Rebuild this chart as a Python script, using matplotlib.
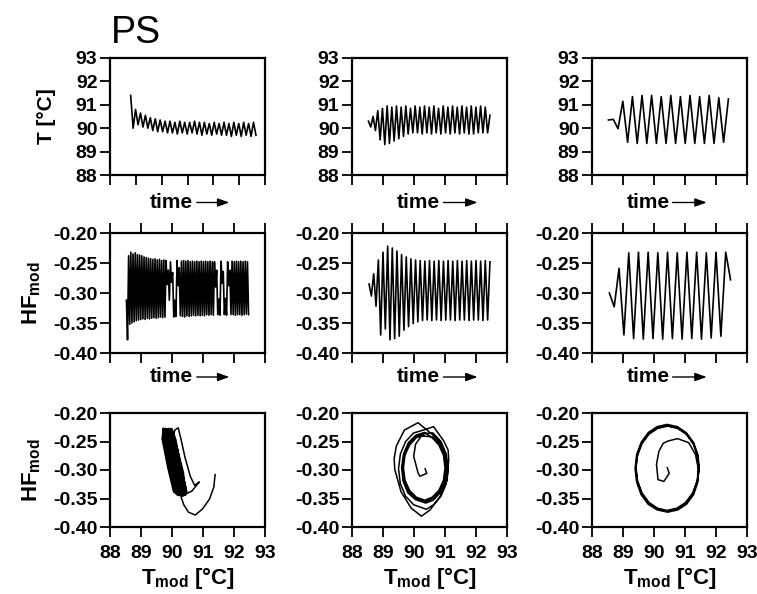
"""PS panels: T and HF_mod against time, plus HF_mod vs T_mod phase portraits."""

import matplotlib

matplotlib.use("Agg")
import matplotlib.pyplot as plt
import numpy as np

# ---- top row: T [°C], successive turning points ----
T_LEFT = [91.40, 90.00, 90.80, 90.15, 90.65, 90.05, 90.55, 90.00, 90.45, 89.90,
          90.40, 89.85, 90.35, 89.85, 90.30, 89.80, 90.30, 89.80, 90.25, 89.75,
          90.30, 89.80, 90.25, 89.75, 90.25, 89.80, 90.30, 89.75, 90.25, 89.70,
          90.25, 89.75, 90.20, 89.70, 90.25, 89.75, 90.20, 89.70, 90.25, 89.70,
          90.20, 89.65, 90.25, 89.70, 90.20, 89.65, 90.25, 89.70, 90.20, 89.65,
          90.25, 89.70]
T_MID = [90.30, 90.05, 90.50, 89.90, 90.75, 89.50, 90.85, 89.30, 90.95, 89.35,
         90.90, 89.45, 90.95, 89.55, 90.90, 89.65, 90.95, 89.75, 90.85, 89.80,
         90.95, 89.80, 90.90, 89.75, 90.95, 89.80, 90.90, 89.75, 90.95, 89.80,
         90.85, 89.75, 90.95, 89.80, 90.90, 89.75, 90.95, 89.80, 90.90, 89.75,
         90.95, 89.80, 90.90, 89.75, 90.95, 89.75, 90.90, 89.80, 90.95, 89.80,
         90.90, 89.80, 90.55]
T_RIGHT = [90.35, 90.38, 89.98, 91.15, 89.40, 91.35, 89.35, 91.40, 89.35, 91.40,
           89.35, 91.35, 89.35, 91.40, 89.35, 91.35, 89.35, 91.40, 89.35, 91.35,
           89.35, 91.40, 89.35, 91.30, 89.40, 91.25]
# start / end of each trace on the (arbitrary) time axis
T_SPANS = [(0.80, 5.65), (0.53, 4.45), (0.53, 4.40)]

# ---- middle row: HF_mod ----
HF_LEFT = [-0.312, -0.378, -0.238, -0.352, -0.232, -0.350, -0.235, -0.348, -0.233, -0.346,
           -0.236, -0.345, -0.237, -0.344, -0.238, -0.343, -0.240, -0.344, -0.241, -0.342,
           -0.242, -0.343, -0.243, -0.342, -0.244, -0.341, -0.243, -0.342, -0.245, -0.341,
           -0.244, -0.340, -0.246, -0.341, -0.245, -0.340, -0.246, -0.286, -0.262, -0.312,
           -0.248, -0.282, -0.266, -0.340, -0.312, -0.339, -0.246, -0.288, -0.258, -0.338,
           -0.247, -0.339, -0.246, -0.340, -0.247, -0.338, -0.246, -0.339, -0.248, -0.338,
           -0.247, -0.337, -0.248, -0.338, -0.247, -0.337, -0.248, -0.338, -0.247, -0.337,
           -0.248, -0.338, -0.247, -0.336, -0.248, -0.337, -0.247, -0.336, -0.248, -0.337,
           -0.248, -0.290, -0.262, -0.336, -0.310, -0.337, -0.247, -0.284, -0.264, -0.336,
           -0.309, -0.337, -0.248, -0.288, -0.262, -0.336, -0.247, -0.336, -0.248, -0.337,
           -0.247, -0.336, -0.248, -0.336, -0.247, -0.337, -0.248, -0.336, -0.247, -0.335,
           -0.248, -0.336]
HF_MID = [-0.285, -0.305, -0.268, -0.322, -0.245, -0.370, -0.232, -0.360, -0.222, -0.378,
          -0.225, -0.376, -0.230, -0.372, -0.236, -0.362, -0.240, -0.356, -0.243, -0.351,
          -0.245, -0.348, -0.246, -0.346, -0.247, -0.345, -0.246, -0.346, -0.247, -0.345,
          -0.246, -0.346, -0.247, -0.345, -0.246, -0.345, -0.247, -0.346, -0.246, -0.345,
          -0.247, -0.345, -0.246, -0.346, -0.247, -0.345, -0.246, -0.345, -0.247, -0.346,
          -0.246, -0.345, -0.248]
HF_RIGHT = [-0.300, -0.323, -0.259, -0.370, -0.233, -0.376, -0.232, -0.377, -0.232, -0.376,
            -0.233, -0.377, -0.232, -0.376, -0.233, -0.377, -0.232, -0.376, -0.232, -0.377,
            -0.233, -0.375, -0.232, -0.372, -0.232, -0.278]
HF_SPANS = [(0.53, 4.47), (0.55, 4.45), (0.56, 4.47)]

# ---- bottom row: phase portraits (T_mod, HF_mod) ----
PP_LEFT_T = [
    # start-up transient
    91.39, 91.35, 91.21, 90.99, 90.75, 90.53, 90.38, 90.29, 90.44,
    # first, wider cycle
    90.37, 90.18, 90.05, 90.09, 90.20, 90.29, 90.42, 90.59, 90.73, 90.88,
    90.64, 90.49, 90.31, 90.15, 90.01,
    # narrow cycles drifting to lower T
    90.00, 90.12, 90.28, 90.44, 90.46, 90.33, 90.14, 89.96,
    89.96, 90.08, 90.24, 90.40, 90.42, 90.29, 90.10, 89.92,
    89.92, 90.04, 90.20, 90.36, 90.38, 90.25, 90.06, 89.88,
    89.88, 90.00, 90.16, 90.32, 90.34, 90.21, 90.02, 89.84,
    89.84, 89.96, 90.12, 90.28, 90.30, 90.17, 89.98, 89.80,
    89.80, 89.92, 90.08, 90.24, 90.26, 90.13, 89.94, 89.76,
    89.76, 89.88, 90.04, 90.20, 90.22, 90.09, 89.90, 89.72,
    89.72, 89.84, 90.00, 90.16, 90.18, 90.05, 89.86, 89.68, 89.72,
]
PP_LEFT_HF = [
    -0.308, -0.330, -0.351, -0.368, -0.379, -0.374, -0.361, -0.347, -0.343,
    -0.305, -0.264, -0.240, -0.230, -0.226, -0.246, -0.278, -0.311, -0.327, -0.321,
    -0.337, -0.341, -0.299, -0.258, -0.237,
    -0.228, -0.246, -0.291, -0.330, -0.343, -0.337, -0.294, -0.246,
    -0.227, -0.245, -0.290, -0.331, -0.344, -0.338, -0.295, -0.245,
    -0.228, -0.246, -0.291, -0.330, -0.345, -0.337, -0.294, -0.246,
    -0.227, -0.245, -0.290, -0.331, -0.344, -0.338, -0.295, -0.245,
    -0.228, -0.246, -0.291, -0.330, -0.345, -0.337, -0.294, -0.246,
    -0.227, -0.245, -0.290, -0.331, -0.344, -0.338, -0.295, -0.245,
    -0.228, -0.246, -0.291, -0.330, -0.345, -0.337, -0.294, -0.246,
    -0.227, -0.245, -0.290, -0.331, -0.344, -0.338, -0.295, -0.245, -0.227,
]

PP_MID_T = [
    90.36, 90.41, 90.19, 90.13, 89.99, 90.05, 90.24,
    90.60, 90.83, 90.98, 91.03, 90.98, 90.83, 90.60, 90.36, 90.06, 89.83, 89.68,
    89.63, 89.68, 89.83, 90.06, 90.33,
    90.61, 90.87, 91.04, 91.10, 91.04, 90.87, 90.63, 90.40, 89.99, 89.73, 89.56,
    89.50, 89.56, 89.73, 89.99, 90.30,
    90.63, 90.96, 91.10, 91.12, 91.07, 90.85, 90.52, 90.24, 89.91, 89.58, 89.38,
    89.36, 89.43, 89.69, 90.13,
    90.62, 90.86, 91.01, 91.06, 91.00, 90.85, 90.62, 90.38, 90.05, 89.80, 89.65,
    89.60, 89.66, 89.82, 90.06, 90.34,
    90.58, 90.80, 90.95, 91.00, 90.95, 90.80, 90.58, 90.35, 90.08, 89.86, 89.71,
    89.66, 89.71, 89.86, 90.08, 90.32,
]
PP_MID_HF = [
    -0.298, -0.306, -0.311, -0.305, -0.276, -0.255, -0.240,
    -0.242, -0.254, -0.273, -0.296, -0.319, -0.338, -0.350, -0.356, -0.350, -0.338, -0.319,
    -0.296, -0.273, -0.254, -0.242, -0.236,
    -0.235, -0.250, -0.272, -0.298, -0.324, -0.346, -0.361, -0.369, -0.361, -0.346, -0.324,
    -0.298, -0.272, -0.250, -0.235, -0.230,
    -0.224, -0.249, -0.265, -0.281, -0.317, -0.346, -0.370, -0.381, -0.367, -0.338, -0.299,
    -0.280, -0.258, -0.230, -0.217,
    -0.239, -0.252, -0.271, -0.295, -0.320, -0.340, -0.353, -0.358, -0.352, -0.340, -0.320,
    -0.296, -0.272, -0.252, -0.239, -0.234,
    -0.243, -0.256, -0.274, -0.296, -0.318, -0.336, -0.348, -0.353, -0.348, -0.336, -0.318,
    -0.296, -0.274, -0.256, -0.243, -0.239,
]

PP_RIGHT_T = [
    # inward start, spiralling out
    90.43, 90.49, 90.32, 90.13, 90.08, 90.16, 90.30, 90.46, 90.76, 91.12, 91.34, 91.42,
    # limit cycle, three passes
    91.40, 91.26, 91.03, 90.75, 90.43, 90.11, 89.83, 89.60, 89.46, 89.41,
    89.46, 89.60, 89.83, 90.11, 90.43, 90.75, 91.03, 91.26, 91.40, 91.45,
    91.41, 91.28, 91.05, 90.77, 90.44, 90.10, 89.81, 89.58, 89.44, 89.39,
    89.44, 89.59, 89.82, 90.10, 90.42, 90.76, 91.05, 91.28, 91.42, 91.46,
    91.39, 91.25, 91.02, 90.74, 90.42, 90.11, 89.84, 89.61, 89.47, 89.42,
    89.47, 89.61, 89.84, 90.12, 90.44, 90.76, 91.04, 91.27, 91.41, 91.44,
]
PP_RIGHT_HF = [
    -0.296, -0.306, -0.320, -0.317, -0.290, -0.267, -0.253, -0.249, -0.245, -0.252, -0.273, -0.296,
    -0.320, -0.341, -0.358, -0.368, -0.372, -0.368, -0.358, -0.341, -0.320, -0.297,
    -0.274, -0.253, -0.236, -0.226, -0.222, -0.226, -0.236, -0.253, -0.274, -0.297,
    -0.322, -0.343, -0.360, -0.370, -0.374, -0.370, -0.360, -0.343, -0.321, -0.298,
    -0.273, -0.251, -0.234, -0.224, -0.220, -0.224, -0.235, -0.252, -0.274, -0.298,
    -0.319, -0.340, -0.357, -0.367, -0.371, -0.367, -0.357, -0.340, -0.319, -0.296,
    -0.274, -0.254, -0.237, -0.227, -0.223, -0.227, -0.237, -0.254, -0.275, -0.297,
]

T_TICKS = [88, 89, 90, 91, 92, 93]
HF_TICKS = [-0.40, -0.35, -0.30, -0.25, -0.20]

plt.rcParams.update({
    "font.family": "Liberation Sans",
    "font.weight": "bold",
    "axes.unicode_minus": False,
    "mathtext.fontset": "custom",
    "mathtext.rm": "Liberation Sans:bold",
    "mathtext.bf": "Liberation Sans:bold",
    "mathtext.it": "Liberation Sans:bold",
})

W, H = 757, 594
COL_X = [110, 352, 592]
AX_W = 155
ROWS = [(58, 175), (233, 353), (413, 527)]
# "time" word centre and arrow extent (axes fraction), per column
TIME_TXT = [0.395, 0.43, 0.365]
TIME_ARROW = [(0.56, 0.77), (0.59, 0.81), (0.52, 0.74)]
TIME_Y = [-0.235, -0.20]

fig = plt.figure(figsize=(W / 100, H / 100), dpi=100)


def make_axes(row, col):
    top, bottom = ROWS[row]
    ax = fig.add_axes([COL_X[col] / W, 1 - bottom / H, AX_W / W, (bottom - top) / H])
    for sp in ax.spines.values():
        sp.set_linewidth(1.6)
    ax.tick_params(direction="out", length=7, width=1.3, labelsize=14, pad=2)
    return ax


def time_label(ax, row, col):
    y = TIME_Y[row]
    ax.text(TIME_TXT[col], y, "time", transform=ax.transAxes, ha="center",
            va="center", fontsize=15, fontweight="bold")
    x0, x1 = TIME_ARROW[col]
    ax.annotate("", xy=(x1, y), xytext=(x0, y), xycoords="axes fraction",
                textcoords="axes fraction",
                arrowprops=dict(arrowstyle="-|>,head_length=0.7,head_width=0.25",
                                lw=1.0, color="black", shrinkA=0, shrinkB=0))


t_series = [T_LEFT, T_MID, T_RIGHT]
hf_series = [HF_LEFT, HF_MID, HF_RIGHT]
portraits = [(PP_LEFT_T, PP_LEFT_HF), (PP_MID_T, PP_MID_HF), (PP_RIGHT_T, PP_RIGHT_HF)]

for col in range(3):
    n_ticks = 7 if col == 0 else 6

    # T vs time
    ax = make_axes(0, col)
    t0, t1 = T_SPANS[col]
    t = np.linspace(t0, t1, len(t_series[col]))
    ax.plot(t, t_series[col], color="black", lw=1.2)
    ax.set_xlim(0, n_ticks - 1)
    ax.set_xticks(range(n_ticks))
    ax.tick_params(axis="x", labelbottom=False)
    ax.set_ylim(88, 93)
    ax.set_yticks(T_TICKS)
    time_label(ax, 0, col)
    if col == 0:
        ax.set_ylabel("T [°C]", fontsize=15, fontweight="bold", labelpad=14)

    # HF vs time
    ax = make_axes(1, col)
    t0, t1 = HF_SPANS[col]
    t = np.linspace(t0, t1, len(hf_series[col]))
    ax.plot(t, hf_series[col], color="black", lw=1.2)
    ax.set_xlim(0, 5)
    ax.set_xticks(range(6))
    ax.tick_params(axis="x", top=True, labelbottom=False, labeltop=False)
    ax.set_ylim(-0.40, -0.20)
    ax.set_yticks(HF_TICKS, labels=[f"{v:.2f}" for v in HF_TICKS])
    time_label(ax, 1, col)
    if col == 0:
        ax.set_ylabel(r"HF$_{\mathbf{mod}}$", fontsize=16, fontweight="bold", labelpad=7)

    # phase portrait
    ax = make_axes(2, col)
    px, py = portraits[col]
    ax.plot(px, py, color="black", lw=1.1)
    ax.set_xlim(88, 93)
    ax.set_xticks(T_TICKS)
    ax.tick_params(axis="x", pad=6)
    ax.set_ylim(-0.40, -0.20)
    ax.set_yticks(HF_TICKS, labels=[f"{v:.2f}" for v in HF_TICKS])
    ax.set_xlabel(r"T$_{\mathbf{mod}}$ [°C]", fontsize=16, fontweight="bold", labelpad=2)
    if col == 0:
        ax.set_ylabel(r"HF$_{\mathbf{mod}}$", fontsize=16, fontweight="bold", labelpad=7)

fig.text(111 / W, 1 - 43 / H, "PS", fontsize=27, fontweight="normal", va="baseline")

fig.savefig("out.png", dpi=100)
